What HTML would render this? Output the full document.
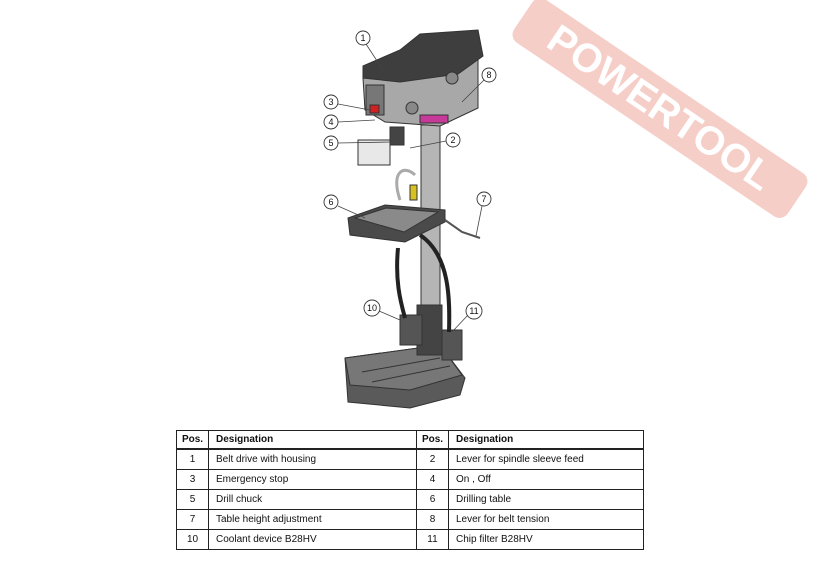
<!DOCTYPE html>
<html><head><style>
body{margin:0;width:820px;height:580px;background:#fff;position:relative;overflow:hidden;font-family:"Liberation Sans",sans-serif}
.wm{position:absolute;left:495px;top:82px;width:330px;height:52px;background:#f4c3bb;opacity:.8;transform:rotate(34deg);border-radius:10px;color:#fff;font-weight:bold;font-size:40px;line-height:52px;text-align:center;transform-origin:center}
table{position:absolute;left:176px;top:430px;width:467px;border-collapse:collapse;font-size:10px;color:#111;table-layout:fixed}
td{border:1px solid #222;height:19px;padding:0 0 0 7px;overflow:hidden;white-space:nowrap}
td.p{text-align:center;padding:0}
tr.h td{font-weight:bold;height:17px;border-bottom:2px solid #222}
</style></head><body>
<div class="wm">POWERTOOL</div>
<svg width="820" height="420" style="position:absolute;left:0;top:0">
<g stroke="#333" stroke-width="1">
<polygon points="345,358 440,345 465,378 460,395 410,408 348,402" fill="#5a5a5a"/>
<polygon points="345,358 440,345 462,375 410,390 350,385" fill="#777"/>
<line x1="362" y1="372" x2="440" y2="358" stroke="#333"/>
<line x1="372" y1="382" x2="450" y2="366" stroke="#333"/>
<rect x="421" y="125" width="19" height="225" fill="#b5b5b5"/>
<rect x="417" y="305" width="25" height="50" fill="#444"/>
<rect x="400" y="315" width="22" height="30" fill="#555"/>
<rect x="442" y="330" width="20" height="30" fill="#555"/>
<path d="M398,248 C395,280 400,300 405,318" fill="none" stroke="#222" stroke-width="4"/>
<path d="M420,235 C450,255 450,300 449,332" fill="none" stroke="#222" stroke-width="4"/>
<path d="M400,200 C390,170 405,165 415,175" fill="none" stroke="#aaa" stroke-width="3"/>
<rect x="410" y="185" width="7" height="15" fill="#d8c020"/>
<polygon points="348,218 385,205 445,210 445,222 405,242 350,235" fill="#4a4a4a"/>
<polygon points="355,218 386,208 438,212 404,232" fill="#8a8a8a"/>
<path d="M445,220 L462,232 L480,238" fill="none" stroke="#555" stroke-width="2"/>
<polygon points="363,78 478,56 478,108 440,126 385,122 365,110" fill="#a8a8a8"/>
<polygon points="363,78 363,66 400,50 420,34 478,30 483,56 458,74 400,82" fill="#3e3e3e"/>
<rect x="366" y="85" width="18" height="30" fill="#777"/>
<rect x="370" y="105" width="9" height="8" fill="#d02020"/>
<rect x="420" y="115" width="28" height="8" fill="#c83a9a"/>
<circle cx="412" cy="108" r="6" fill="#888"/>
<circle cx="452" cy="78" r="6" fill="#888"/>
<rect x="390" y="127" width="14" height="18" fill="#444"/>
<rect x="358" y="140" width="32" height="25" fill="#e8e8e8"/>
</g>
<g stroke="#444" stroke-width="0.8" fill="none">
<line x1="366" y1="44" x2="383" y2="70"/>
<line x1="484" y1="80" x2="462" y2="102"/>
<line x1="338" y1="104" x2="370" y2="110"/>
<line x1="338" y1="122" x2="375" y2="120"/>
<line x1="338" y1="143" x2="392" y2="142"/>
<line x1="446" y1="141" x2="410" y2="148"/>
<line x1="338" y1="206" x2="365" y2="218"/>
<line x1="482" y1="206" x2="476" y2="236"/>
<line x1="379" y1="311" x2="400" y2="320"/>
<line x1="468" y1="315" x2="452" y2="332"/>
</g>
<g font-size="9" text-anchor="middle" fill="#111">
<g fill="#fff" stroke="#333" stroke-width="0.9">
<circle cx="363" cy="38" r="7"/><circle cx="489" cy="75" r="7"/><circle cx="331" cy="102" r="7"/><circle cx="331" cy="122" r="7"/><circle cx="331" cy="143" r="7"/><circle cx="453" cy="140" r="7"/><circle cx="331" cy="202" r="7"/><circle cx="484" cy="199" r="7"/><circle cx="372" cy="308" r="8"/><circle cx="474" cy="311" r="8"/>
</g>
<text x="363" y="41">1</text><text x="489" y="78">8</text><text x="331" y="105">3</text><text x="331" y="125">4</text><text x="331" y="146">5</text><text x="453" y="143">2</text><text x="331" y="205">6</text><text x="484" y="202">7</text><text x="372" y="311">10</text><text x="474" y="314">11</text>
</g>
</svg>
<table>
<colgroup><col style="width:32px"><col style="width:208px"><col style="width:32px"><col style="width:195px"></colgroup>
<tr class="h"><td class="p">Pos.</td><td>Designation</td><td class="p">Pos.</td><td>Designation</td></tr>
<tr><td class="p">1</td><td>Belt drive with housing</td><td class="p">2</td><td>Lever for spindle sleeve feed</td></tr>
<tr><td class="p">3</td><td>Emergency stop</td><td class="p">4</td><td>On , Off</td></tr>
<tr><td class="p">5</td><td>Drill chuck</td><td class="p">6</td><td>Drilling table</td></tr>
<tr><td class="p">7</td><td>Table height adjustment</td><td class="p">8</td><td>Lever for belt tension</td></tr>
<tr><td class="p">10</td><td>Coolant device B28HV</td><td class="p">11</td><td>Chip filter B28HV</td></tr>
</table>
</body></html>
